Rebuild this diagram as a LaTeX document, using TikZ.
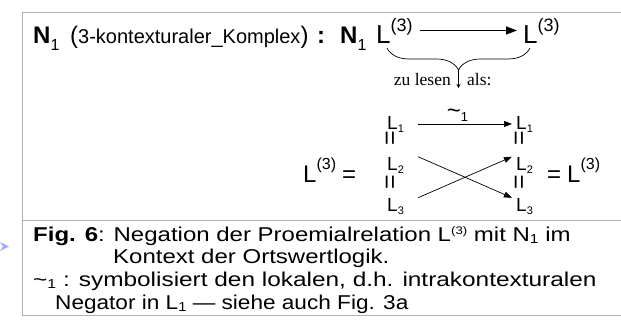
\documentclass[tikz,border=0pt]{standalone}
\usepackage{fontspec}
\usepackage{graphicx}
\setmainfont{Liberation Sans}
\newfontfamily\notefont{Liberation Serif}
\usetikzlibrary{arrows.meta,decorations.pathreplacing,positioning}

\newcommand{\fsz}[1]{\fontsize{#1}{#1}\selectfont}
\newcommand{\Lcol}[1]{L\raisebox{-3pt}{\fsz{11}#1}}
\newcommand{\Lthree}[3]{\fsz{#1}L\raisebox{#2}{\fsz{#3}(3)}}
\newcommand{\capline}[2]{\scalebox{#1}[1]{#2}}

\tikzset{
  txt/.style={anchor=base west, inner sep=0pt},
  captxt/.style={txt, font=\fsz{20}},
  frame/.style={draw=black!30, line width=0.8pt},
  arr/.style={-{Triangle[length=8pt,width=6pt]}, line width=0.7pt},
  bigarr/.style={-{Triangle[length=11pt,width=8pt]}, line width=1.2pt},
  vert/.style={rotate=90, inner sep=0pt, font=\fsz{25}}
}

\begin{document}
\begin{tikzpicture}[x=1pt, y=-1pt]
\useasboundingbox (0,0) rectangle (621,327);
% frame
\draw[frame] (621,12) -- (22,12) -- (22,315) -- (621,315);
\draw[frame] (22,220) -- (621,220);
\fill[blue!35!white] (0,242) -- (9,246.5) -- (0,251) -- (3,246.5) -- cycle;

% top line
\node[txt] (titleN) at (33,43) {\fsz{24}\bfseries N\raisebox{-7pt}{\fsz{16}\mdseries 1}};
\node[txt] (titleK) at (70,43) {\fsz{24}(\fsz{20}3-kontexturaler\_Komplex\fsz{24})};
\node[txt] (colon) at (317,43) {\fsz{24}\bfseries :};
\node[txt] (negN) at (340,43) {\fsz{24}\bfseries N\raisebox{-7pt}{\fsz{16}\mdseries 1}};
\node[txt] (Lsrc) at (376,43) {\Lthree{26}{12pt}{18}};
\node[txt] (Ltgt) at (523,43) {\Lthree{26}{12pt}{18}};
\draw[bigarr] ([xshift=7pt]Lsrc.east) -- ([xshift=-6pt]Ltgt.west);

% brace
\coordinate (braceL) at (387,48);
\coordinate (braceR) at (530,48);
\draw[decorate, decoration={brace, mirror, amplitude=22pt}, line width=0.7pt] (braceL) -- (braceR);
\coordinate (tip) at (458.5,70);
\coordinate (tipend) at (458.5,88);
\draw[-{Stealth[length=4pt,width=4pt]}, line width=0.6pt] (tip) -- (tipend);
\node[anchor=base east, inner sep=0pt, font=\notefont\fsz{17.5}] (zulesen) at (451,85) {zu lesen};
\node[txt, font=\notefont\fsz{17.5}] (als) at (467,85) {als:};

% middle
\node[txt] (Lleft) at (303,182) {\Lthree{24}{13pt}{16}\hspace{6pt}=};
\node[txt] (l1) at (387,129) {\fsz{19}\Lcol{1}};
\node[txt] (l2) at (387,170) {\fsz{19}\Lcol{2}};
\node[txt] (l3) at (387,211) {\fsz{19}\Lcol{3}};
\node[txt] (r1) at (516,129) {\fsz{19}\Lcol{1}};
\node[txt] (r2) at (516,170) {\fsz{19}\Lcol{2}};
\node[txt] (r3) at (516,211) {\fsz{19}\Lcol{3}};
\node[vert] (leq1) at (392,138) {=};
\node[vert] (leq2) at (392,182) {=};
\node[vert] (req1) at (521,138) {=};
\node[vert] (req2) at (521,182) {=};
\node[txt] (Lright) at (547,182) {\fsz{24}=\hspace{6pt}\Lthree{24}{13pt}{16}};

\draw[arr] ([xshift=14pt]l1.east) -- ([xshift=-4pt]r1.west)
  node[pos=0.42, above=2pt, inner sep=0pt] (neg) {\fsz{24}\textasciitilde\raisebox{-3pt}{\fsz{13}1}};
\draw[arr] ([xshift=14pt]l2.north east) -- ([xshift=-4pt]r3.north west);
\draw[arr] ([xshift=14pt]l3.north east) -- ([xshift=-4pt]r2.north west);

% caption
\node[captxt] (cap1) at (33,241)
  {\capline{1.2}{\textbf{Fig. 6}: Negation der Proemialrelation L\raisebox{7pt}{\fsz{11}(3)} mit N\raisebox{-2pt}{\fsz{13}1} im}};
\node[captxt] (cap2) at (113,263) {\capline{1.2}{Kontext der Ortswertlogik.}};
\node[captxt] (cap3) at (33,286)
  {\capline{1.22}{\textasciitilde\raisebox{-2pt}{\fsz{13}1} : symbolisiert den lokalen, d.h. intrakontexturalen}};
\node[captxt] (cap4) at (55,309) {\capline{1.13}{Negator in L\raisebox{-2pt}{\fsz{13}1} — siehe auch Fig. 3a}};
\end{tikzpicture}
\end{document}
